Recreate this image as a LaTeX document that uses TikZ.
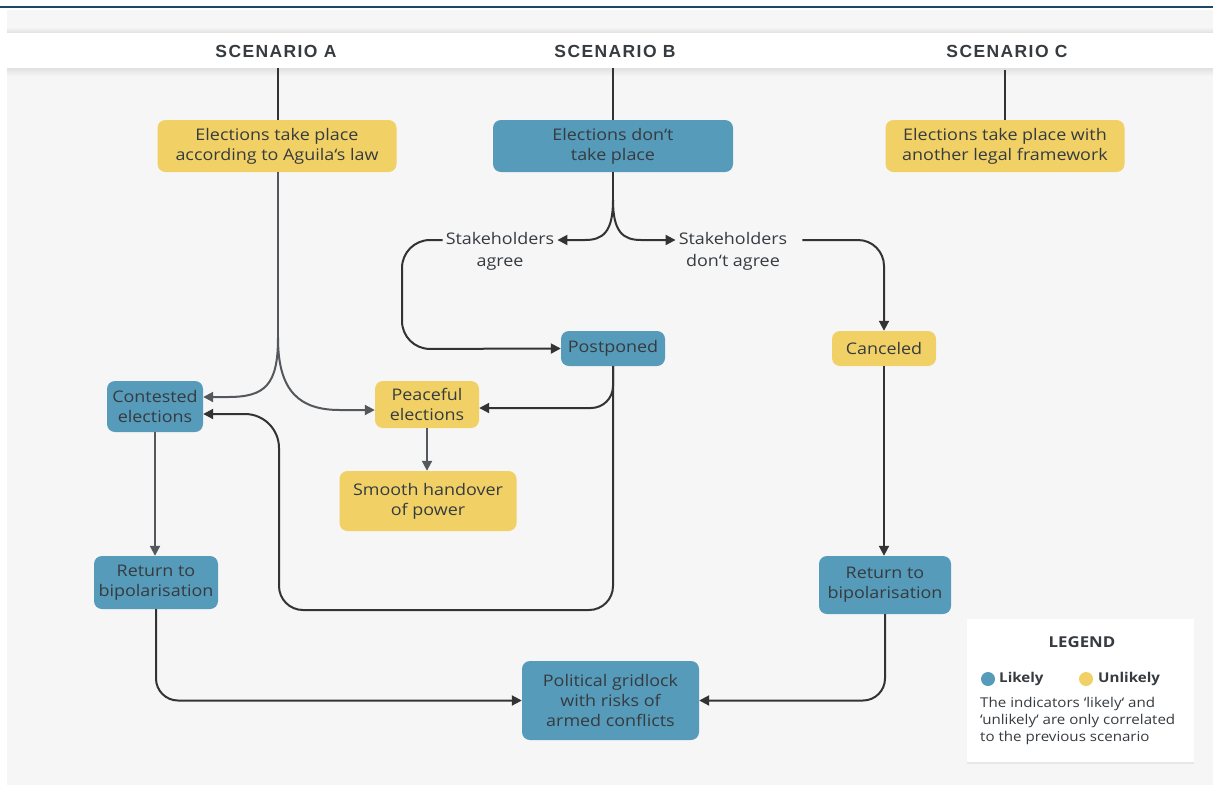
\documentclass[tikz,border=0pt]{standalone}
\usepackage{fontspec}
\setmainfont[FakeStretch=1.12]{Open Sans}
\newfontfamily\hdrfont[LetterSpace=8]{Liberation Sans}
\usetikzlibrary{arrows.meta,shadows}
\definecolor{bgC}{HTML}{F6F6F6}
\definecolor{blueC}{HTML}{569BB9}
\definecolor{yelC}{HTML}{F1D166}
\definecolor{txt}{HTML}{363B40}
\definecolor{arrG}{HTML}{54585C}
\definecolor{arrD}{HTML}{333333}
\definecolor{topC}{HTML}{1D4A63}
\begin{document}
\begin{tikzpicture}[x=1pt,y=-1pt,
  base/.style={rounded corners=8pt, align=center, inner sep=0pt, text=txt,
    font=\fontsize{16}{20}\selectfont},
  likely/.style={base, fill=blueC},
  unlikely/.style={base, fill=yelC},
  plain/.style={align=center, inner sep=3pt, text=txt, font=\fontsize{16}{22}\selectfont},
  hdr/.style={text=txt, font=\hdrfont\bfseries\fontsize{17.5}{20}\selectfont},
  tipG/.style={-{Triangle[length=10pt,width=10pt]}},
  garr/.style={draw=arrG, line width=2pt, tipG},
  gline/.style={draw=arrG, line width=2pt},
  darr/.style={draw=arrD, line width=2pt, tipG},
  dline/.style={draw=arrD, line width=2pt},
]
\useasboundingbox (0,0) rectangle (1213,785);
% background
\fill[white] (0,0) rectangle (1213,785);
\fill[bgC] (7,10) rectangle (1213,785);
\shade[top color=bgC, bottom color=black!12] (7,27) rectangle (1213,33);
\shade[top color=black!12, bottom color=bgC] (7,68) rectangle (1213,76);
\fill[white] (7,33) rectangle (1213,68);
\draw[topC, line width=1.5pt] (0,7) -- (1213,7);

% headers
\node[hdr] (ha) at (276,51) {SCENARIO A};
\node[hdr] (hb) at (615,51) {SCENARIO B};
\node[hdr] (hc) at (1007,51) {SCENARIO C};
\coordinate (ta) at (278,68);
\coordinate (tb) at (613,68);
\coordinate (tc) at (1005,70);

% nodes
\node[unlikely, minimum width=239, minimum height=52] (a1) at (277,146) {Elections take place\\according to Aguila‘s law};
\node[likely, minimum width=240, minimum height=52] (b1) at (613,146) {Elections don‘t\\take place};
\node[unlikely, minimum width=239, minimum height=52] (c1) at (1005,146) {Elections take place with\\another legal framework};
\node[plain] (sa) at (500,251) {Stakeholders\\agree};
\node[plain] (sd) at (733,251) {Stakeholders\\don‘t agree};
\node[likely, minimum width=104, minimum height=35] (pp) at (613,348.5) {Postponed};
\node[unlikely, minimum width=104, minimum height=35] (cn) at (884,348.5) {Canceled};
\node[likely, minimum width=96, minimum height=51] (ce) at (155,406.5) {Contested\\elections};
\node[unlikely, minimum width=104, minimum height=47] (pe) at (427,404.5) {Peaceful\\elections};
\node[unlikely, minimum width=177, minimum height=60] (sh) at (428,501) {Smooth handover\\of power};
\node[likely, minimum width=124, minimum height=53] (ra) at (156,582.5) {Return to\\bipolarisation};
\node[likely, minimum width=132, minimum height=58] (rc) at (885,585) {Return to\\bipolarisation};
\node[likely, minimum width=177, minimum height=79] (pg) at (610.5,700.5) {Political gridlock\\with risks of\\armed conflicts};

% header lines
\draw[dline] (ta) -- (a1.north -| ta);
\draw[dline] (tb) -- (b1.north);
\draw[dline] (tc) -- (c1.north);

% scenario A
\coordinate (aj) at (278,338);
\draw[gline] (a1.south -| aj) -- (aj);
\draw[garr] (aj) .. controls (278,385) and (265,397) .. (228,397) -- ([yshift=9.5pt]ce.east);
\draw[garr] (aj) .. controls (278,392) and (300,410) .. (340,410) -- ([yshift=-5.5pt]pe.west);
\draw[garr] (pe.south) -- (pe.south |- sh.north);
\draw[garr] (ce.south) -- (ce.south |- ra.north);

% scenario B
\coordinate (bj) at (613,200);
\draw[dline] (b1.south) -- (bj);
\draw[darr] (bj) .. controls (613,232) and (603,240) .. (585,240) -- ([yshift=11pt]sa.east);
\draw[darr] (bj) .. controls (613,232) and (623,240) .. (641,240) -- ([yshift=11pt]sd.west);
\draw[darr, rounded corners=28pt] ([yshift=11pt]sa.west) -- (402,240) -- (402,349) -- (pp.west);
\draw[darr, rounded corners=22pt] (pp.south) -- (613,408) -- ([yshift=-3.5pt]pe.east);
\draw[darr, rounded corners=24pt] (pp.south) -- (613,610) -- (279,610) [rounded corners=34pt] -- (279,414) -- ([yshift=-7.5pt]ce.east);
\draw[darr, rounded corners=26pt] ([xshift=12pt,yshift=11pt]sd.east) -- (cn.north |- 0,240) -- (cn.north);
\draw[darr] (cn.south) -- (cn.south |- rc.north);

% gridlock
\draw[darr, rounded corners=22pt] (ra.south) -- (ra.south |- pg.west) -- (pg.west);
\draw[darr, rounded corners=22pt] (rc.south) -- (rc.south |- pg.east) -- (pg.east);

% legend
\node[fill=white, minimum width=227, minimum height=143, inner sep=0pt,
  drop shadow={opacity=0.12, shadow xshift=0pt, shadow yshift=-2pt}] (lg) at (1080.5,690.5) {};
\node[text=txt, font=\bfseries\fontsize{15}{16}\selectfont] (lt) at (1082,642) {LEGEND};
\node[circle, fill=blueC, minimum size=14, inner sep=0pt] (lb) at (988,679) {};
\node[anchor=west, text=txt, font=\bfseries\fontsize{13.5}{16}\selectfont, inner sep=0pt] (ll) at (999,679) {Likely};
\node[circle, fill=yelC, minimum size=14, inner sep=0pt] (ly) at (1086,679) {};
\node[anchor=west, text=txt, font=\bfseries\fontsize{13.5}{16}\selectfont, inner sep=0pt] (lu) at (1098,679) {Unlikely};
\node[anchor=north west, align=left, text=txt, font=\fontsize{13.5}{17}\selectfont, inner sep=0pt] (lx) at (980,697) {The indicators ‘likely‘ and\\‘unlikely‘ are only correlated\\to the previous scenario};
\end{tikzpicture}
\end{document}
